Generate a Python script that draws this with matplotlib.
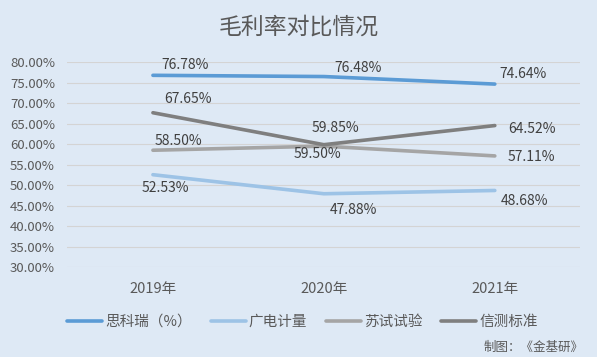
import numpy as np
import matplotlib
matplotlib.use("Agg")
import matplotlib.pyplot as plt
from matplotlib.ticker import FuncFormatter

plt.rcParams['font.family'] = ['Noto Sans CJK SC', 'DejaVu Sans']

# data
years = ['2019年', '2020年', '2021年']
series_names = ['思科瑞（%）', '广电计量', '苏试试验', '信测标准']
sikerui = [76.78, 76.48, 74.64]
guangdian = [52.53, 47.88, 48.68]
sushi = [58.50, 59.50, 57.11]
xince = [67.65, 59.85, 64.52]

colors = ['#5b9bd5', '#9dc3e6', '#a5a5a5', '#7f7f7f']
# label offsets in pixels (dx, dy) for each point
offsets = [
    [(32, 10), (34, 9), (28, 10)],
    [(12, -13), (30, -16), (30, -11)],
    [(25, 9), (-6, -8), (37, -1)],
    [(35, 14), (12, 17), (37, -3)],
]

bg = '#dee9f5'
fig = plt.figure(figsize=(5.97, 3.57), dpi=100, facecolor=bg)
ax = fig.add_axes([0.113, 0.252, 0.859, 0.574], facecolor=bg)

x = np.arange(len(years))
all_series = [sikerui, guangdian, sushi, xince]
for vals, name, c, offs in zip(all_series, series_names, colors, offsets):
    ax.plot(x, vals, color=c, lw=2.6, solid_capstyle='round', label=name)
    for xi, v, (dx, dy) in zip(x, vals, offs):
        ax.annotate(f'{v:.2f}%', (xi, v), xytext=(dx, dy), textcoords='offset pixels',
                    ha='center', va='center', fontsize=10, color='#404040')

ax.set_xlim(-0.5, 2.5)
ax.set_ylim(30, 80)
ax.set_yticks(np.arange(30, 80.1, 5))
ax.yaxis.set_major_formatter(FuncFormatter(lambda v, p: f'{v:.2f}%'))
ax.set_xticks(x)
ax.set_xticklabels(years)
ax.tick_params(axis='both', length=0, labelsize=9.5, labelcolor='#595959')
ax.tick_params(axis='x', labelsize=10.5, pad=11)
ax.tick_params(axis='y', pad=9)
ax.grid(axis='y', color='#d4d4d4', lw=0.8)
ax.set_axisbelow(True)
for s in ax.spines.values():
    s.set_visible(False)

fig.text(0.5, 0.925, '毛利率对比情况', ha='center', va='center', fontsize=16.5, color='#595959')

fig.legend(loc='center left', bbox_to_anchor=(67 / 597, 1 - 322 / 357), ncol=4, frameon=False,
           fontsize=10.5, handlelength=2.4, handletextpad=0.2, columnspacing=1.3,
           borderpad=0, borderaxespad=0, labelcolor='#595959')

fig.text(0.978, 0.028, '制图：《金基研》', ha='right', va='center', fontsize=9, color='#595959')

fig.savefig('out.png', dpi=100, facecolor=bg)
